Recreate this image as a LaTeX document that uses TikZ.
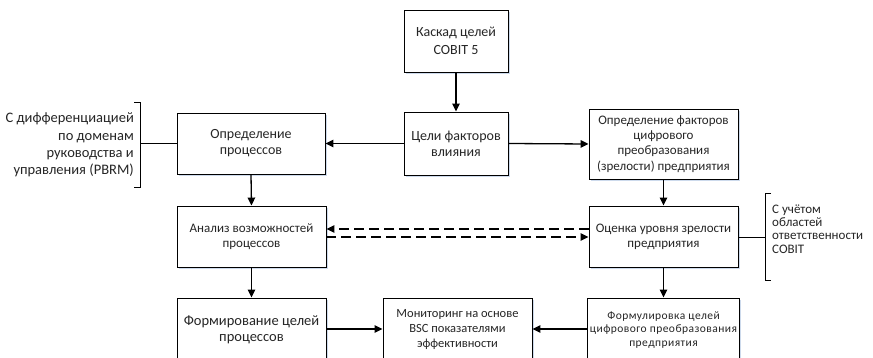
\documentclass[tikz,border=0pt]{standalone}
\usepackage{fontspec}
\setmainfont{Carlito}
\usetikzlibrary{arrows.meta,shadows}
\definecolor{txt}{RGB}{38,38,38}
\definecolor{shd}{RGB}{205,218,236}
\tikzset{
  box/.style={draw=black, line width=0.9pt, fill=white, rectangle, inner sep=2pt,
    align=center, text=txt,
    drop shadow={shadow xshift=1.6pt, shadow yshift=-1.6pt, fill=shd, opacity=1}},
  conn/.style={line width=1.3pt, -{Triangle[length=8pt,width=7.5pt]}},
  dconn/.style={conn, dash pattern=on 10pt off 5pt},
  plain/.style={line width=0.9pt},
  note/.style={text=txt, inner sep=0pt}
}
\begin{document}
\begin{tikzpicture}[x=1pt,y=-1pt]
\path[use as bounding box, clip] (0,0) rectangle (873,358);
\fill[white] (0,0) rectangle (873,358);

\node[box, minimum width=104pt, minimum height=62pt, font=\fontsize{14}{18}\selectfont] (cascade) at (456,41) {Каскад целей\\COBIT 5};
\node[box, minimum width=104pt, minimum height=63pt, font=\fontsize{14}{16}\selectfont] (goals) at (456,143.5) {Цели факторов\\влияния};
\node[box, minimum width=148pt, minimum height=61pt, font=\fontsize{14}{16}\selectfont] (defproc) at (251,143.5) {Определение\\процессов};
\node[box, minimum width=149pt, minimum height=70pt, font=\fontsize{13}{15.3}\selectfont] (deffact) at (663.5,144) {Определение факторов\\цифрового\\преобразования\\(зрелости) предприятия};
\node[box, minimum width=149pt, minimum height=61pt, font=\fontsize{13}{15}\selectfont] (analysis) at (251.5,236.5) {Анализ возможностей\\процессов};
\node[box, minimum width=149pt, minimum height=61pt, font=\fontsize{13}{15}\selectfont] (assess) at (663.5,236.5) {Оценка уровня зрелости\\предприятия};
\node[box, minimum width=149pt, minimum height=64pt, font=\fontsize{14.5}{15.5}\selectfont] (formproc) at (251.5,330) {Формирование целей\\процессов};
\node[box, minimum width=149pt, minimum height=64pt, font=\fontsize{12.5}{15}\selectfont] (monitor) at (457.5,330) {Мониторинг на основе\\BSC показателями\\эффективности};
\node[box, minimum width=149pt, minimum height=64pt, font=\fontsize{11.5}{13.5}\selectfont\addfontfeatures{LetterSpace=4}] (formul) at (663.5,330) {Формулировка целей\\цифрового преобразования\\предприятия};

% left bracket
\coordinate (lb) at (140,143.5);
\draw[plain] (134,102) -- (140,102) -- (140,187) -- (134,187);
\draw[plain] (lb) -- (defproc.west);
\node[note, anchor=east, align=right, font=\fontsize{14.5}{17.3}\selectfont] (lnote) at (134,145) {С дифференциацией\\по доменам\\руководства и\\управления (PBRM)};

% right bracket
\coordinate (rb) at (765,237);
\draw[plain] (771,193) -- (765,193) -- (765,280) -- (771,280);
\draw[plain] (assess.east |- rb) -- (rb);
\node[note, anchor=west, align=left, font=\fontsize{13}{13.2}\selectfont] (rnote) at (772,229) {С учётом\\областей\\ответственности\\COBIT};

% connectors
\draw[conn] (cascade.south) -- (goals.north);
\draw[conn] (goals.west) -- (defproc.east);
\draw[conn] (goals.east) -- (deffact.west);
\draw[conn] (defproc.south) -- (analysis.north);
\draw[conn] (deffact.south) -- (assess.north);
\draw[dconn] ([yshift=7.5pt]assess.west) -- ([yshift=7.5pt]analysis.east);
\draw[dconn] ([yshift=-0.5pt]analysis.east) -- ([yshift=-0.5pt]assess.west);
\draw[conn] (analysis.south) -- (formproc.north);
\draw[conn] (assess.south) -- (formul.north);
\draw[conn] (formproc.east |- 0,329) -- (monitor.west |- 0,329);
\draw[conn] (formul.west |- 0,329) -- (monitor.east |- 0,329);
\end{tikzpicture}
\end{document}
